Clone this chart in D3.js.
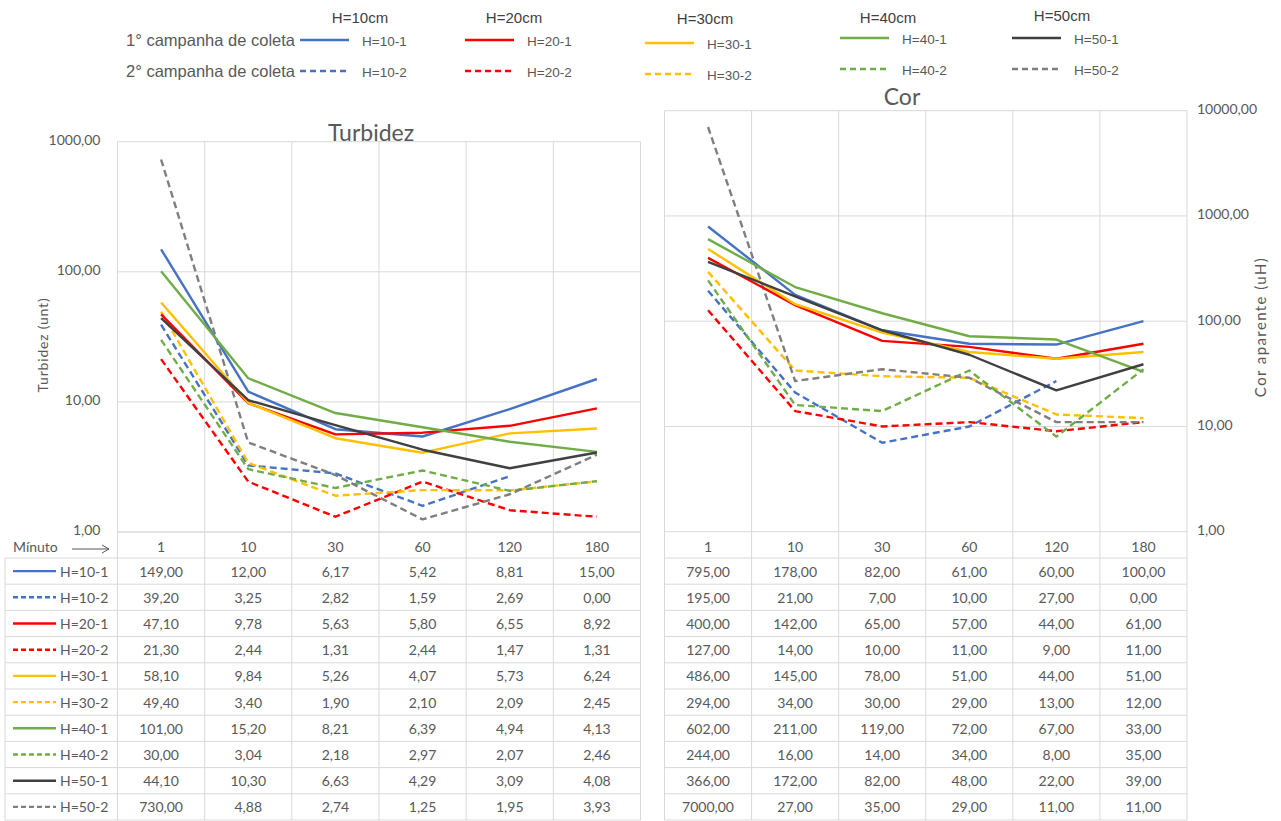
<!DOCTYPE html>
<html>
<head>
<meta charset="utf-8">
<script src="https://cdn.jsdelivr.net/npm/d3@7"></script>
<style>
  body { margin: 0; background: #ffffff; }
  svg { display: block; }
</style>
</head>
<body>
<svg id="chart" width="1281" height="821"></svg>
<script>
// ---- data -------------------------------------------------------------
const minutes = ["1", "10", "30", "60", "120", "180"];
const seriesNames = ["H=10-1", "H=10-2", "H=20-1", "H=20-2", "H=30-1",
                     "H=30-2", "H=40-1", "H=40-2", "H=50-1", "H=50-2"];
const heights = ["H=10cm", "H=20cm", "H=30cm", "H=40cm", "H=50cm"];
const campaigns = ["1° campanha de coleta", "2° campanha de coleta"];

// Turbidez (unt), one row per series, one column per minute
const turbidez = [
  [149.00, 12.00, 6.17, 5.42, 8.81, 15.00],
  [39.20, 3.25, 2.82, 1.59, 2.69, 0.00],
  [47.10, 9.78, 5.63, 5.80, 6.55, 8.92],
  [21.30, 2.44, 1.31, 2.44, 1.47, 1.31],
  [58.10, 9.84, 5.26, 4.07, 5.73, 6.24],
  [49.40, 3.40, 1.90, 2.10, 2.09, 2.45],
  [101.00, 15.20, 8.21, 6.39, 4.94, 4.13],
  [30.00, 3.04, 2.18, 2.97, 2.07, 2.46],
  [44.10, 10.30, 6.63, 4.29, 3.09, 4.08],
  [730.00, 4.88, 2.74, 1.25, 1.95, 3.93]
];

// Cor aparente (uH)
const cor = [
  [795.00, 178.00, 82.00, 61.00, 60.00, 100.00],
  [195.00, 21.00, 7.00, 10.00, 27.00, 0.00],
  [400.00, 142.00, 65.00, 57.00, 44.00, 61.00],
  [127.00, 14.00, 10.00, 11.00, 9.00, 11.00],
  [486.00, 145.00, 78.00, 51.00, 44.00, 51.00],
  [294.00, 34.00, 30.00, 29.00, 13.00, 12.00],
  [602.00, 211.00, 119.00, 72.00, 67.00, 33.00],
  [244.00, 16.00, 14.00, 34.00, 8.00, 35.00],
  [366.00, 172.00, 82.00, 48.00, 22.00, 39.00],
  [7000.00, 27.00, 35.00, 29.00, 11.00, 11.00]
];

const turbidezTicks = [1, 10, 100, 1000];
const corTicks = [1, 10, 100, 1000, 10000];

// ---- styles -------------------------------------------------------------
const seriesColors = ["#4472C4", "#4472C4", "#FF0000", "#FF0000", "#FFC000",
                      "#FFC000", "#70AD47", "#70AD47", "#404040", "#7F7F7F"];
const DASH = "7,4";
const isDashed = i => i % 2 === 1;
const GRID = "#D9D9D9";
const TEXT = "#595959";
const TABLE_FONT = "Lato, 'Open Sans', sans-serif";
const LEGEND_FONT = "'Liberation Sans', Arial, sans-serif";

const fmt = v => d3.format(".2f")(v).replace(".", ",");

const svg = d3.select("#chart");

// ---- layout -------------------------------------------------------------
const ROW_H = 26.2;
const tableTop = 532;           // top of the "Minuto" header row
const firstRowTop = tableTop + 26;
const tableBottom = firstRowTop + ROW_H * seriesNames.length;

function panel(cfg) {
  const g = svg.append("g");
  const x = d3.scaleBand().domain(minutes).range([cfg.left, cfg.right]);
  const y = d3.scaleLog().domain(cfg.yDomain).range([cfg.bottom, cfg.top]);

  // horizontal gridlines (decades)
  g.append("g").selectAll("line").data(cfg.ticks).join("line")
    .attr("x1", cfg.left).attr("x2", cfg.right)
    .attr("y1", d => y(d)).attr("y2", d => y(d))
    .attr("stroke", GRID).attr("stroke-width", 1);

  // vertical category separators through chart and table
  const bounds = minutes.map(m => x(m)).concat([cfg.right]);
  g.append("g").selectAll("line").data(bounds).join("line")
    .attr("x1", d => d).attr("x2", d => d)
    .attr("y1", cfg.top).attr("y2", tableBottom)
    .attr("stroke", GRID).attr("stroke-width", 1);

  // table horizontal rules
  const rows = d3.range(seriesNames.length + 1).map(i => firstRowTop + i * ROW_H);
  g.append("g").selectAll("line").data(rows).join("line")
    .attr("x1", cfg.tableLeft).attr("x2", cfg.right)
    .attr("y1", d => d).attr("y2", d => d)
    .attr("stroke", GRID).attr("stroke-width", 1);

  // y tick labels
  const axisG = g.append("g")
    .attr("transform", `translate(${cfg.axisSide === "left" ? cfg.left : cfg.right},0)`);
  const axis = (cfg.axisSide === "left" ? d3.axisLeft(y) : d3.axisRight(y))
    .tickValues(cfg.ticks).tickFormat(fmt).tickSize(0).tickPadding(cfg.tickPad);
  axisG.call(axis);
  axisG.select(".domain").remove();
  axisG.selectAll("text")
    .attr("fill", TEXT).attr("font-family", TABLE_FONT).attr("font-size", 14)
    .attr("dy", "0.2em");

  // title
  g.append("text").attr("x", cfg.titleX).attr("y", cfg.titleY)
    .attr("text-anchor", "middle").attr("fill", TEXT)
    .attr("font-family", TABLE_FONT).attr("font-size", 23)
    .text(cfg.title);

  // y axis title
  g.append("text")
    .attr("transform", `translate(${cfg.yTitleX},${cfg.yTitleY}) rotate(-90)`)
    .attr("text-anchor", "middle").attr("dominant-baseline", "middle")
    .attr("fill", TEXT).attr("font-family", TABLE_FONT).attr("font-size", cfg.yTitleSize)
    .attr("letter-spacing", cfg.yTitleSpacing)
    .text(cfg.yTitle);

  // category labels (header row)
  g.append("g").selectAll("text").data(minutes).join("text")
    .attr("x", d => x(d) + x.bandwidth() / 2)
    .attr("y", tableTop + 14)
    .attr("text-anchor", "middle").attr("dominant-baseline", "central")
    .attr("fill", TEXT).attr("font-family", TABLE_FONT).attr("font-size", 14)
    .text(d => d);

  // value cells
  cfg.values.forEach((row, r) => {
    g.append("g").selectAll("text").data(row).join("text")
      .attr("x", (d, c) => x(minutes[c]) + x.bandwidth() / 2)
      .attr("y", firstRowTop + r * ROW_H + ROW_H / 2)
      .attr("text-anchor", "middle").attr("dominant-baseline", "central")
      .attr("fill", TEXT).attr("font-family", TABLE_FONT).attr("font-size", 14)
      .text(d => fmt(d));
  });

  // series lines (zero readings are not drawn on the log axis)
  const line = d3.line()
    .defined(d => d > 0)
    .x((d, c) => x(minutes[c]) + x.bandwidth() / 2)
    .y(d => y(d));
  const order = [1, 3, 5, 7, 9, 0, 2, 4, 6, 8];
  g.append("g").selectAll("path").data(order).join("path")
    .attr("d", i => line(cfg.values[i]))
    .attr("fill", "none")
    .attr("stroke", i => seriesColors[i])
    .attr("stroke-width", 2.4)
    .attr("stroke-linejoin", "round")
    .attr("stroke-dasharray", i => isDashed(i) ? DASH : null);

  return { x, y };
}

// Turbidez panel
panel({
  left: 117.5, right: 640.5, top: 141.7, bottom: 532,
  yDomain: [1, 1000], ticks: turbidezTicks, axisSide: "left", tickPad: 17,
  tableLeft: 5,
  title: "Turbidez", titleX: 371, titleY: 141,
  yTitle: "Turbidez (unt)", yTitleX: 44, yTitleY: 345, yTitleSize: 14, yTitleSpacing: 0.8,
  values: turbidez
});

// Cor panel
panel({
  left: 664.5, right: 1187, top: 110.7, bottom: 531.7,
  yDomain: [1, 10000], ticks: corTicks, axisSide: "right", tickPad: 10,
  tableLeft: 664.5,
  title: "Cor", titleX: 902, titleY: 105,
  yTitle: "Cor aparente (uH)", yTitleX: 1262, yTitleY: 327, yTitleSize: 15, yTitleSpacing: 1.4,
  values: cor
});

// left table: series key column
svg.append("line").attr("x1", 5).attr("x2", 5)
  .attr("y1", firstRowTop).attr("y2", tableBottom)
  .attr("stroke", GRID);
svg.append("line").attr("x1", 117.5).attr("x2", 640.5)
  .attr("y1", tableTop).attr("y2", tableTop).attr("stroke", GRID);

svg.append("text").attr("x", 13).attr("y", tableTop + 14)
  .attr("dominant-baseline", "central").attr("fill", TEXT)
  .attr("font-family", TABLE_FONT).attr("font-size", 14).text("Mínuto");

// thin arrow pointing to the minute columns
const arrowY = tableTop + 17;
svg.append("path")
  .attr("d", `M72,${arrowY} L109,${arrowY} M102,${arrowY - 4} L109,${arrowY} L102,${arrowY + 4}`)
  .attr("fill", "none").attr("stroke", TEXT).attr("stroke-width", 1);

const keyRows = svg.append("g").selectAll("g").data(seriesNames).join("g")
  .attr("transform", (d, i) => `translate(0,${firstRowTop + i * ROW_H + ROW_H / 2})`);
keyRows.append("line")
  .attr("x1", 13).attr("x2", 56).attr("y1", 0).attr("y2", 0)
  .attr("stroke", (d, i) => seriesColors[i]).attr("stroke-width", 2.4)
  .attr("stroke-dasharray", (d, i) => isDashed(i) ? "5,3" : null);
keyRows.append("text")
  .attr("x", 60).attr("y", 0).attr("dominant-baseline", "central")
  .attr("fill", TEXT).attr("font-family", TABLE_FONT).attr("font-size", 14)
  .text(d => d);

// ---- top legend -------------------------------------------------------------
const legendSwatchX = [300, 465, 645, 840, 1012];
const legendHeaderX = [360, 514, 705, 888, 1062];
const legendHeaderY = [17, 17, 18, 17, 15];
const legendShift = [0, 0, 3, -2, -2];
const legendRowY = [40, 71];

svg.append("g").selectAll("text").data(campaigns).join("text")
  .attr("x", 295).attr("y", (d, i) => legendRowY[i])
  .attr("text-anchor", "end").attr("dominant-baseline", "central")
  .attr("fill", TEXT).attr("font-family", LEGEND_FONT).attr("font-size", 16.5)
  .text(d => d);

heights.forEach((h, k) => {
  const g = svg.append("g");
  g.append("text").attr("x", legendHeaderX[k]).attr("y", legendHeaderY[k])
    .attr("text-anchor", "middle").attr("dominant-baseline", "central")
    .attr("fill", "#404040").attr("font-family", LEGEND_FONT).attr("font-size", 15)
    .text(h);
  [0, 1].forEach(c => {
    const i = k * 2 + c;
    const yy = legendRowY[c] + legendShift[k];
    g.append("line")
      .attr("x1", legendSwatchX[k]).attr("x2", legendSwatchX[k] + 49)
      .attr("y1", yy).attr("y2", yy)
      .attr("stroke", seriesColors[i]).attr("stroke-width", 2.4)
      .attr("stroke-dasharray", isDashed(i) ? "6,4" : null);
    g.append("text")
      .attr("x", legendSwatchX[k] + 62).attr("y", yy + 1)
      .attr("dominant-baseline", "central")
      .attr("fill", TEXT).attr("font-family", LEGEND_FONT).attr("font-size", 13.5)
      .text(seriesNames[i]);
  });
});
</script>
</body>
</html>
